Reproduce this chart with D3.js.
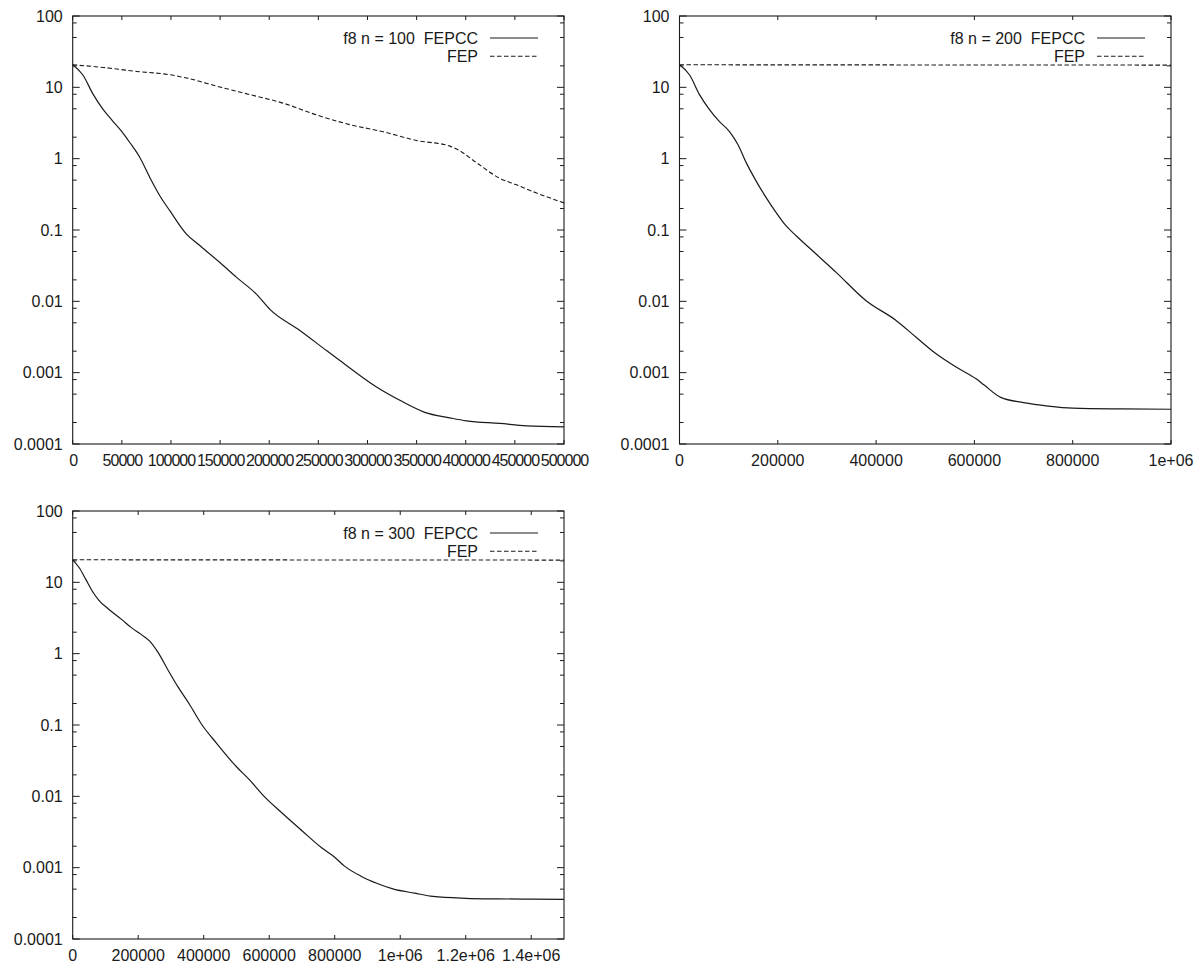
<!DOCTYPE html>
<html><head><meta charset="utf-8">
<script src="https://cdn.jsdelivr.net/npm/d3@7"></script>
<style>
body{margin:0;background:#fff}
text{font-family:"Liberation Sans",Arial,Helvetica,sans-serif;font-size:16px;fill:#1a1a1a}
</style>
</head><body>
<svg id="chart" width="1200" height="963"></svg>
<script>
// ---- tick labels ----
const yTickValues = [1e-4, 1e-3, 1e-2, 0.1, 1, 10, 100];
const yTickLabels = ["0.0001", "0.001", "0.01", "0.1", "1", "10", "100"];
const p1XTicks = [0, 50000, 100000, 150000, 200000, 250000, 300000, 350000, 400000, 450000, 500000];
const p1XLabels = ["0", "50000", "100000", "150000", "200000", "250000", "300000", "350000", "400000", "450000", "500000"];
const p2XTicks = [0, 200000, 400000, 600000, 800000, 1000000];
const p2XLabels = ["0", "200000", "400000", "600000", "800000", "1e+06"];
const p3XTicks = [0, 200000, 400000, 600000, 800000, 1000000, 1200000, 1400000];
const p3XLabels = ["0", "200000", "400000", "600000", "800000", "1e+06", "1.2e+06", "1.4e+06"];

// ---- panel 1 (n = 100) ----
const p1FepccX = [0, 10200, 21000, 31100, 39700, 49800, 58300, 68500, 78600, 88800, 99000, 116000, 127800, 149800, 166800, 187200, 200700, 231200, 258300, 271900, 309200, 332900, 358300, 383800, 400700, 434700, 461800, 500000];
const p1FepccY = [20.7, 15.0, 7.9, 4.86, 3.5, 2.42, 1.67, 1.03, 0.54, 0.30, 0.185, 0.087, 0.063, 0.035, 0.0217, 0.0125, 0.0077, 0.0039, 0.00204, 0.00148, 0.00063, 0.00041, 0.000278, 0.000233, 0.000211, 0.000194, 0.00018, 0.000174];
const p1FepX = [0, 31100, 65100, 99000, 116000, 149800, 180400, 214200, 248200, 282100, 316000, 349900, 383800, 390600, 410900, 434700, 451600, 472000, 500000];
const p1FepY = [20.7, 19.0, 16.7, 15.0, 13.5, 10.1, 7.9, 6.0, 4.1, 3.0, 2.38, 1.8, 1.5, 1.37, 0.88, 0.53, 0.43, 0.33, 0.24];

// ---- panel 2 (n = 200) ----
const p2FepccX = [0, 20300, 40700, 61000, 81400, 101700, 118800, 135700, 156000, 176300, 196700, 217000, 237300, 278000, 318700, 379700, 440700, 481400, 522100, 562800, 603400, 620000, 653600, 700000, 750000, 800000, 900000, 1000000];
const p2FepccY = [20.7, 15.0, 7.9, 4.86, 3.3, 2.4, 1.58, 0.88, 0.485, 0.284, 0.175, 0.114, 0.083, 0.046, 0.0255, 0.0102, 0.0054, 0.00314, 0.00184, 0.0012, 0.00082, 0.00067, 0.00045, 0.00038, 0.00034, 0.000318, 0.00031, 0.000307];
const p2FepX = [0, 500000, 1000000];
const p2FepY = [20.7, 20.6, 20.5];

// ---- panel 3 (n = 300) ----
const p3FepccX = [0, 20000, 40000, 60000, 80000, 110000, 150000, 180000, 210000, 235000, 260000, 290000, 320000, 355000, 395000, 440000, 500000, 540000, 580000, 640000, 700000, 760000, 800000, 830000, 880000, 930000, 980000, 1044000, 1100000, 1200000, 1300000, 1400000, 1500000];
const p3FepccY = [20.7, 16.0, 11.0, 7.5, 5.6, 4.2, 3.0, 2.3, 1.85, 1.5, 1.05, 0.6, 0.35, 0.2, 0.1, 0.055, 0.026, 0.017, 0.0105, 0.0058, 0.0033, 0.0019, 0.0014, 0.00105, 0.00076, 0.0006, 0.0005, 0.00044, 0.000395, 0.000372, 0.000365, 0.000362, 0.00036];
const p3FepX = [0, 750000, 1500000];
const p3FepY = [20.7, 20.6, 20.5];

const panels = [
  {left: 72.7, top: 16, right: 564, bottom: 444, xMax: 500000, xTicks: p1XTicks, xLabels: p1XLabels, xLabelSpacing: -1.0,
   fepccX: p1FepccX, fepccY: p1FepccY, fepX: p1FepX, fepY: p1FepY, title: "f8 n = 100  FEPCC"},
  {left: 679.5, top: 16, right: 1171, bottom: 444, xMax: 1000000, xTicks: p2XTicks, xLabels: p2XLabels, xLabelSpacing: 0,
   fepccX: p2FepccX, fepccY: p2FepccY, fepX: p2FepX, fepY: p2FepY, title: "f8 n = 200  FEPCC"},
  {left: 72.7, top: 511, right: 564, bottom: 939, xMax: 1500000, xTicks: p3XTicks, xLabels: p3XLabels, xLabelSpacing: 0,
   fepccX: p3FepccX, fepccY: p3FepccY, fepX: p3FepX, fepY: p3FepY, title: "f8 n = 300  FEPCC"}
];

const svg = d3.select("#chart");
const ink = "#1a1a1a";
const minorMult = [2, 5, 8];

panels.forEach(p => {
  const g = svg.append("g");
  const x = d3.scaleLinear().domain([0, p.xMax]).range([p.left, p.right]);
  const y = d3.scaleLog().domain([1e-4, 100]).range([p.bottom, p.top]);

  // y ticks (left & right), major + minor
  yTickValues.forEach((v, i) => {
    const yy = y(v);
    g.append("line").attr("x1", p.left).attr("x2", p.left + 7).attr("y1", yy).attr("y2", yy).attr("stroke", ink);
    g.append("line").attr("x1", p.right).attr("x2", p.right - 7).attr("y1", yy).attr("y2", yy).attr("stroke", ink);
    g.append("text").attr("x", p.left - 10).attr("y", yy).attr("dy", "0.36em")
      .attr("text-anchor", "end").text(yTickLabels[i]);
    if (i < yTickValues.length - 1) {
      minorMult.forEach(m => {
        const ym = y(v * m);
        g.append("line").attr("x1", p.left).attr("x2", p.left + 4).attr("y1", ym).attr("y2", ym).attr("stroke", ink);
        g.append("line").attr("x1", p.right).attr("x2", p.right - 4).attr("y1", ym).attr("y2", ym).attr("stroke", ink);
      });
    }
  });

  // x ticks (bottom & top)
  p.xTicks.forEach((v, i) => {
    const xx = x(v);
    g.append("line").attr("x1", xx).attr("x2", xx).attr("y1", p.bottom).attr("y2", p.bottom - 4).attr("stroke", ink);
    g.append("line").attr("x1", xx).attr("x2", xx).attr("y1", p.top).attr("y2", p.top + 4).attr("stroke", ink);
    g.append("text").attr("x", xx - p.xLabelSpacing / 2).attr("y", p.bottom + 21.5).attr("text-anchor", "middle")
      .style("letter-spacing", p.xLabelSpacing + "px").text(p.xLabels[i]);
  });

  // frame
  g.append("rect").attr("x", p.left).attr("y", p.top)
    .attr("width", p.right - p.left).attr("height", p.bottom - p.top)
    .attr("fill", "none").attr("stroke", ink).attr("stroke-width", 1.1);

  const line = d3.line().x(d => x(d[0])).y(d => y(d[1])).curve(d3.curveMonotoneX);
  const fepcc = p.fepccX.map((v, i) => [v, p.fepccY[i]]);
  const fep = p.fepX.map((v, i) => [v, p.fepY[i]]);

  g.append("path").attr("d", line(fep)).attr("fill", "none").attr("stroke", ink)
    .attr("stroke-width", 1.1).attr("stroke-dasharray", "4.5,2.5");
  g.append("path").attr("d", line(fepcc)).attr("fill", "none").attr("stroke", ink)
    .attr("stroke-width", 1.2);

  // legend
  const ly1 = p.top + 22, ly2 = p.top + 40.3;
  g.append("text").attr("x", p.right - 86).attr("y", ly1).attr("dy", "0.36em")
    .attr("text-anchor", "end").style("white-space", "pre").attr("xml:space", "preserve").text(p.title);
  g.append("line").attr("x1", p.right - 74).attr("x2", p.right - 26).attr("y1", ly1).attr("y2", ly1)
    .attr("stroke", ink).attr("stroke-width", 1.2);
  g.append("text").attr("x", p.right - 86).attr("y", ly2).attr("dy", "0.36em")
    .attr("text-anchor", "end").text("FEP");
  g.append("line").attr("x1", p.right - 74).attr("x2", p.right - 26).attr("y1", ly2).attr("y2", ly2)
    .attr("stroke", ink).attr("stroke-width", 1.1).attr("stroke-dasharray", "4.5,2.5");
});
</script>
</body></html>
